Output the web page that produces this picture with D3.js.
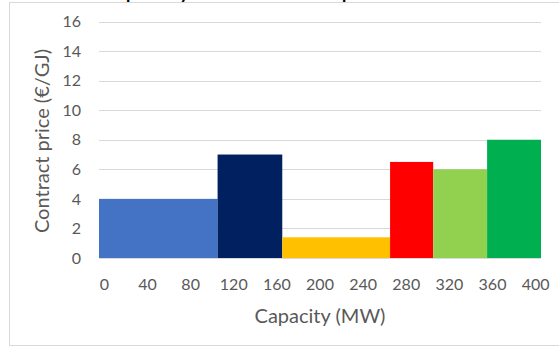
<!DOCTYPE html>
<html>
<head>
<meta charset="utf-8">
<script src="https://cdn.jsdelivr.net/npm/d3@7"></script>
<style>
  html, body { margin: 0; padding: 0; background: #fff; overflow: hidden; }
  svg { display: block; font-family: Lato, "Open Sans", sans-serif; }
</style>
</head>
<body>
<svg id="chart" width="559" height="349"></svg>
<script>
// Supply offers: capacity block per bidder (MW) and its contract price (€/GJ)
const capacities = [110, 60, 100, 40, 50, 50];
const prices = [4, 7, 1.4, 6.5, 6, 8];
const colors = ["#4472C4", "#002060", "#FFC000", "#FF0000", "#92D050", "#00B050"];

// Axis tick labels
const xTickLabels = [0, 40, 80, 120, 160, 200, 240, 280, 320, 360, 400];
const yTickLabels = [0, 2, 4, 6, 8, 10, 12, 14, 16];

const chartTitle = "Capacity and contract price";
const xTitle = "Capacity (MW)";
const yTitle = "Contract price (\u20AC/GJ)";

const svg = d3.select("#chart");
const plot = { left: 99, right: 541, top: 21.5, bottom: 258 };

const totalCap = d3.sum(capacities);
const x = d3.scaleLinear().domain([0, totalCap]).range([plot.left, plot.right]);
// 10 MW capacity steps, labelled at the centre of each step
const xBand = d3.scaleBand()
  .domain(d3.range(0, totalCap, 10))
  .range([plot.left, plot.right])
  .padding(0);
const y = d3.scaleLinear().domain([0, 16]).range([plot.bottom, plot.top]);

// Chart frame
svg.append("rect")
  .attr("x", 9.5).attr("y", 2.5)
  .attr("width", 580).attr("height", 343)
  .attr("fill", "#fff").attr("stroke", "#d9d9d9").attr("stroke-width", 1);

// Title (sits above the frame)
svg.append("text")
  .attr("x", 96).attr("y", -2.5)
  .attr("font-size", 25)
  .attr("fill", "#000")
  .text(chartTitle);

// Horizontal gridlines
svg.append("g")
  .selectAll("line")
  .data(yTickLabels.filter(d => d > 0))
  .join("line")
  .attr("x1", plot.left).attr("x2", plot.right)
  .attr("y1", d => Math.round(y(d)) + 0.5).attr("y2", d => Math.round(y(d)) + 0.5)
  .attr("stroke", "#d9d9d9").attr("stroke-width", 1);

// Stepped supply bars
const starts = capacities.map((c, i) => d3.sum(capacities.slice(0, i)));
svg.append("g")
  .selectAll("rect")
  .data(capacities.map((c, i) => ({ start: starts[i], cap: c, price: prices[i], color: colors[i] })))
  .join("rect")
  .attr("x", d => x(d.start))
  .attr("width", d => x(d.start + d.cap) - x(d.start))
  .attr("y", d => y(d.price))
  .attr("height", d => y(0) - y(d.price))
  .attr("fill", d => d.color);

// Baseline
svg.append("line")
  .attr("x1", plot.left).attr("x2", plot.right)
  .attr("y1", Math.round(y(0)) + 0.5).attr("y2", Math.round(y(0)) + 0.5)
  .attr("stroke", "#d9d9d9").attr("stroke-width", 1);

// X axis labels
const xAxis = svg.append("g")
  .attr("transform", `translate(0,${y(0)})`)
  .call(d3.axisBottom(xBand)
    .tickValues(xTickLabels)
    .tickSize(0)
    .tickPadding(21)
    .tickFormat(d3.format("d")));
xAxis.select(".domain").remove();
xAxis.selectAll("text")
  .attr("font-size", 16)
  .attr("font-family", "Lato, sans-serif")
  .attr("fill", "#595959");

// Y axis labels
const yAxis = svg.append("g")
  .attr("transform", `translate(${plot.left},0)`)
  .call(d3.axisLeft(y)
    .tickValues(yTickLabels)
    .tickSize(0)
    .tickPadding(18)
    .tickFormat(d3.format("d")));
yAxis.select(".domain").remove();
yAxis.selectAll("text")
  .attr("font-size", 16)
  .attr("font-family", "Lato, sans-serif")
  .attr("fill", "#595959");

// Axis titles
svg.append("text")
  .attr("x", 320).attr("y", 323)
  .attr("text-anchor", "middle")
  .attr("font-size", 20)
  .attr("fill", "#595959")
  .text(xTitle);

svg.append("text")
  .attr("transform", `translate(49,141) rotate(-90)`)
  .attr("text-anchor", "middle")
  .attr("font-size", 20)
  .attr("fill", "#595959")
  .text(yTitle);
</script>
</body>
</html>
